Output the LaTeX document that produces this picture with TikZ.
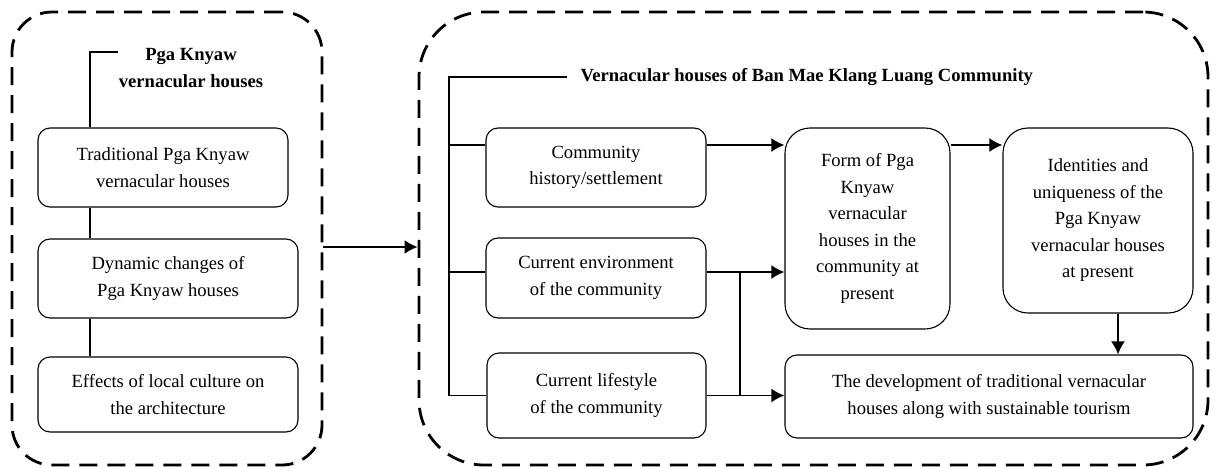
\documentclass[tikz,border=0pt]{standalone}
\usepackage{fontspec}
\setmainfont{Liberation Serif}
\usepackage{tikz}
\usetikzlibrary{arrows.meta, positioning, calc}

\tikzset{
  frame/.style={draw, dash pattern=on 18pt off 10pt, line width=2.8pt, inner sep=0pt},
  box/.style={draw, rounded corners=12pt, line width=1.1pt, align=center, inner sep=0pt,
    font=\fontsize{18.6}{26.5}\selectfont},
  head/.style={align=center, font=\fontsize{18.6}{26.5}\selectfont\bfseries},
  link/.style={line width=1.8pt},
  arr/.style={line width=1.8pt, -{Latex[length=13pt,width=14pt]}}
}

\begin{document}
\begin{tikzpicture}[x=1pt, y=-1pt]
\useasboundingbox (0,0) rectangle (1217,468);

% Dashed groups
\node[frame, rounded corners=40pt, minimum width=310pt, minimum height=453pt] (lgrp) at (167,238.5) {};
\node[frame, rounded corners=65pt, minimum width=789pt, minimum height=453pt] (rgrp) at (813.5,238.5) {};

% Left group: Pga Knyaw houses
\node[head] (ltitle) at (191,68) {Pga Knyaw\\vernacular houses};
\node[box, minimum width=250pt, minimum height=79pt] (trad) at (163,167.5) {Traditional Pga Knyaw\\vernacular houses};
\node[box, minimum width=260pt, minimum height=79pt] (dyn) at (168,278.5) {Dynamic changes of\\Pga Knyaw houses};
\node[box, minimum width=260pt, minimum height=75pt] (eff) at (168,394.5) {Effects of local culture on\\the architecture};

\coordinate (lend) at (118,52);
\coordinate (lcorn) at (90,52);
\draw[link] (lend) -- (lcorn) -- (lcorn |- trad.north);
\draw[link] (lcorn |- trad.south) -- (lcorn |- dyn.north);
\draw[link] (lcorn |- dyn.south) -- (lcorn |- eff.north);

% Between the groups
\draw[arr] ([yshift=-8.5pt]lgrp.east) -- ([yshift=-8.5pt]rgrp.west);

% Right group: Ban Mae Klang Luang
\node[head, anchor=west] (rtitle) at (577,77) {Vernacular houses of Ban Mae Klang Luang Community};
\node[box, minimum width=220pt, minimum height=79pt] (hist) at (596,167.5) {Community\\history/settlement};
\node[box, minimum width=220pt, minimum height=80pt] (env) at (596,278) {Current environment\\of the community};
\node[box, minimum width=219pt, minimum height=85pt] (life) at (596.5,395.5) {Current lifestyle\\of the community};
\node[box, rounded corners=25pt, minimum width=165pt, minimum height=201pt] (form) at (867.5,228.5)
  {Form of Pga\\Knyaw\\vernacular\\houses in the\\community at\\present};
\node[box, rounded corners=25pt, minimum width=190pt, minimum height=185pt] (ident) at (1098,220.5)
  {Identities and\\uniqueness of the\\Pga Knyaw\\vernacular houses\\at present};
\node[box, minimum width=408pt, minimum height=83pt] (dev) at (989,396.5)
  {The development of traditional vernacular\\houses along with sustainable tourism};

\coordinate (rend) at (567,77);
\coordinate (rcorn) at (449,77);
\coordinate (ya) at (0,145);
\coordinate (yb) at (0,272);
\coordinate (jn) at (740,272);
\coordinate (xd) at (1118,0);

\draw[link] (rend) -- (rcorn) -- (rcorn |- life.west);
\draw[link] (rcorn |- ya) -- (hist.west |- ya);
\draw[link] (rcorn |- yb) -- (env.west |- yb);
\draw[link] (rcorn |- life.west) -- (life.west);

\draw[arr] (hist.east |- ya) -- (form.west |- ya);
\draw[arr] (form.east |- ya) -- (ident.west |- ya);
\draw[arr] (env.east |- yb) -- (form.west |- yb);
\draw[link] (jn) -- (jn |- life.east);
\draw[arr] (life.east) -- (dev.west |- life.east);
\draw[arr] (ident.south -| xd) -- (dev.north -| xd);
\end{tikzpicture}
\end{document}
